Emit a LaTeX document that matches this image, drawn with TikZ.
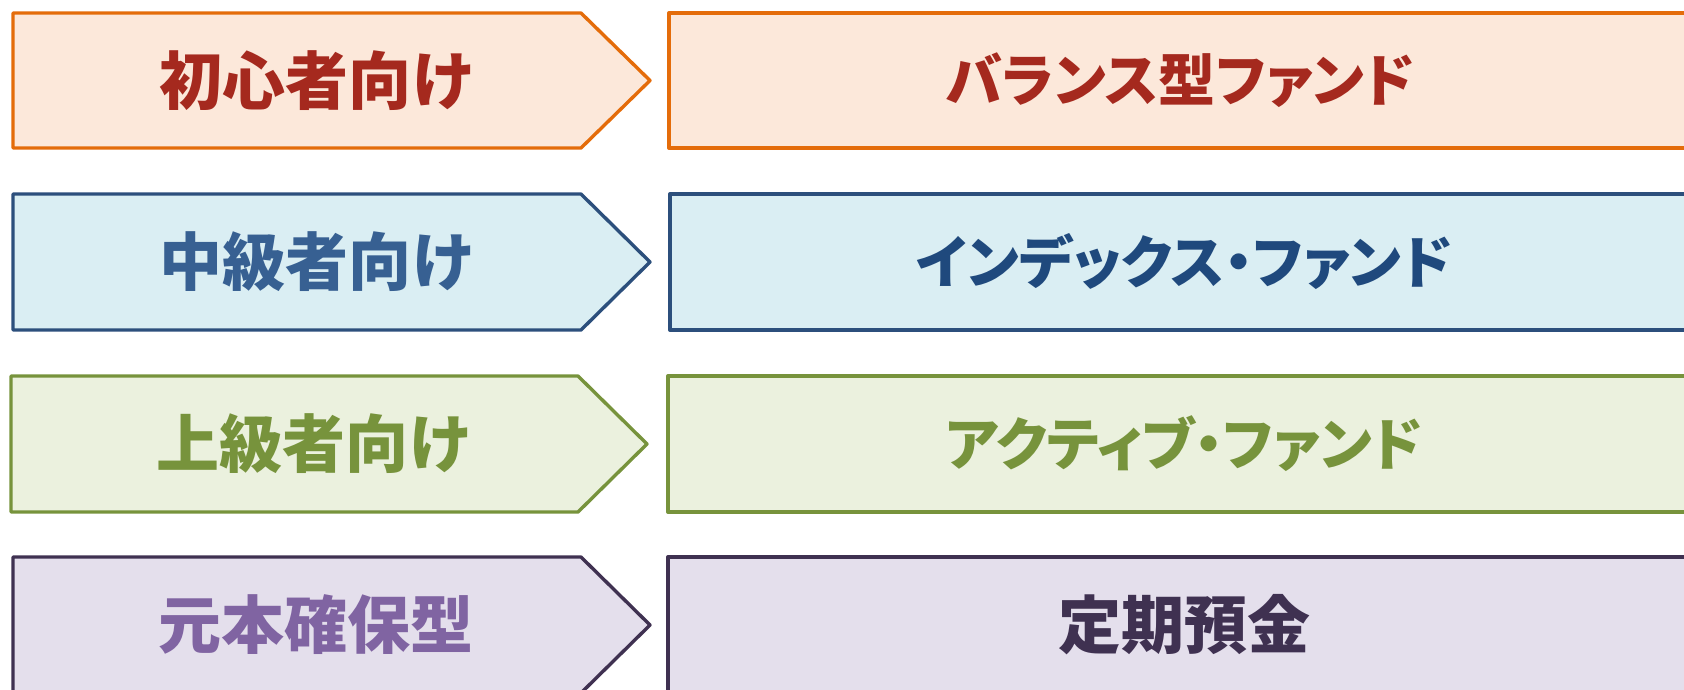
\documentclass[tikz,border=0pt]{standalone}
\usepackage{fontspec}
\newfontfamily\jp{Noto Sans CJK JP}[RawFeature=+palt]
\definecolor{f1}{HTML}{FCE8DA}\definecolor{b1}{HTML}{E46C0A}\definecolor{t1}{HTML}{A5291E}
\definecolor{f2}{HTML}{DAEEF3}\definecolor{b2}{HTML}{2C4F7C}\definecolor{t2l}{HTML}{376092}\definecolor{t2r}{HTML}{1F497D}
\definecolor{f3}{HTML}{EBF1DE}\definecolor{b3}{HTML}{77933C}\definecolor{t3}{HTML}{77933C}
\definecolor{f4}{HTML}{E4DFEC}\definecolor{b4}{HTML}{3F3151}\definecolor{t4l}{HTML}{8064A2}\definecolor{t4r}{HTML}{3F3151}
\tikzset{
  shapebox/.style={line width=3.4pt, line join=round},
  lbl/.style={font=\jp\bfseries\fontsize{63}{63}\selectfont, inner sep=0pt, anchor=center},
  kana/.style={font=\jp\bfseries\fontsize{57}{57}\selectfont, inner sep=0pt, anchor=center},
}
\begin{document}
\begin{tikzpicture}[x=1pt,y=-1pt]
\useasboundingbox (0,0) rectangle (1684,689);
\clip (0,0) rectangle (1684,689);
% row 1
\draw[shapebox, fill=f1, draw=b1] (13,13) -- (581,13) -- (650,80.5) -- (581,148) -- (13,148) -- cycle;
\draw[shapebox, fill=f1, draw=b1] (669,13) rectangle (1700,148);
\node[lbl, text=t1] (l1) at (316,80.5) {初心者向け};
\node[kana, text=t1] (r1) at (1180,80.5) {バランス型ファンド};
% row 2
\draw[shapebox, fill=f2, draw=b2] (13,194) -- (581,194) -- (650,262) -- (581,330) -- (13,330) -- cycle;
\draw[shapebox, fill=f2, draw=b2] (670,194) rectangle (1700,330);
\node[lbl, text=t2l] (l2) at (316,262) {中級者向け};
\node[kana, text=t2r] (r2) at (1184,262) {インデックス・ファンド};
% row 3
\draw[shapebox, fill=f3, draw=b3] (11,376) -- (578,376) -- (647,444) -- (578,512) -- (11,512) -- cycle;
\draw[shapebox, fill=f3, draw=b3] (668,376) rectangle (1700,512);
\node[lbl, text=t3] (l3) at (313,444) {上級者向け};
\node[kana, text=t3] (r3) at (1184,444) {アクティブ・ファンド};
% row 4
\draw[shapebox, fill=f4, draw=b4] (13,557) -- (581,557) -- (650,625) -- (581,693) -- (13,693) -- cycle;
\draw[shapebox, fill=f4, draw=b4] (668,557) rectangle (1700,700);
\node[lbl, text=t4l] (l4) at (316,625) {元本確保型};
\node[lbl, text=t4r] (r4) at (1184,625) {定期預金};
\end{tikzpicture}
\end{document}
